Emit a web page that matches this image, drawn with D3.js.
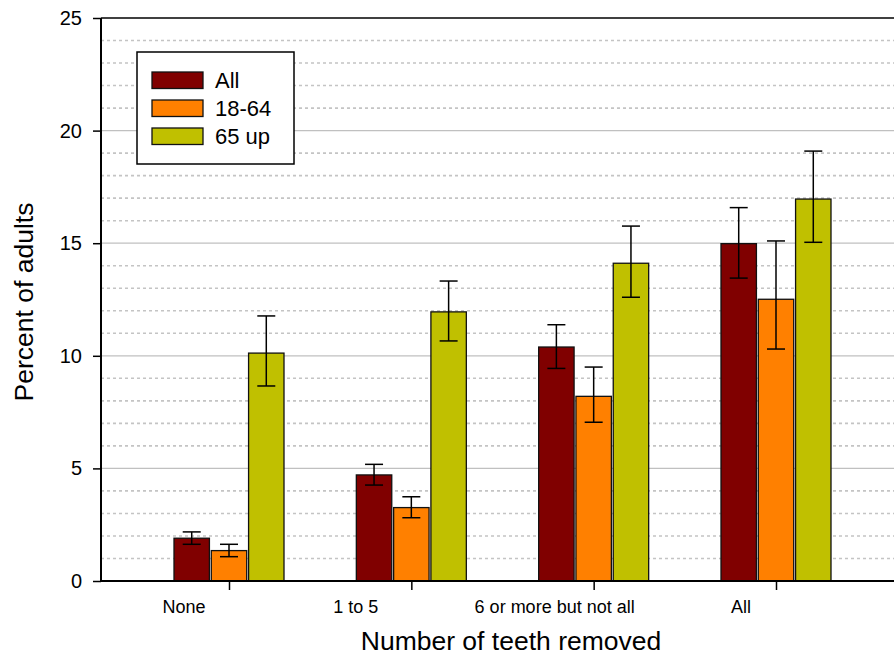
<!DOCTYPE html>
<html>
<head>
<meta charset="utf-8">
<script src="https://cdn.jsdelivr.net/npm/d3@7/dist/d3.min.js"></script>
<style>
  html, body { margin: 0; padding: 0; background: #fff; }
  svg { display: block; font-family: "Liberation Sans", Arial, sans-serif; }
</style>
</head>
<body>
<svg id="chart" width="894" height="655"></svg>
<script>
// ---- Data ----
const categories = ["None", "1 to 5", "6 or more but not all", "All"];
const seriesNames = ["All", "18-64", "65 up"];
const valuesAll   = [1.90, 4.71, 10.39, 14.98];
const lowerAll    = [1.63, 4.26, 9.44, 13.45];
const upperAll    = [2.18, 5.18, 11.38, 16.58];
const values1864  = [1.35, 3.26, 8.20, 12.51];
const lower1864   = [1.08, 2.81, 7.05, 10.30];
const upper1864   = [1.63, 3.74, 9.50, 15.10];
const values65    = [10.12, 11.95, 14.11, 16.96];
const lower65     = [8.66, 10.66, 12.60, 15.04];
const upper65     = [11.77, 13.32, 15.76, 19.09];
const yTicks = [0, 5, 10, 15, 20, 25];
const yMinorTicks = d3.range(1, 25).filter(v => v % 5 !== 0);

// ---- Layout / style ----
const colors = ["#800000", "#FF8000", "#C0C000"];
const W = 894, H = 655;
const plot = { left: 101, top: 18, right: 894, bottom: 581 };
const labelShift = [-45, -55.5, -39, -35];

const svg = d3.select("#chart");

const y = d3.scaleLinear().domain([0, 25]).range([plot.bottom, plot.top]);
const x = d3.scalePoint().domain(categories).range([229, 776]);
const xs = d3.scaleBand().domain(seriesNames).range([-55, 55]).paddingInner(0.05);

const series = [
  { name: "All",   v: valuesAll,  lo: lowerAll,  hi: upperAll },
  { name: "18-64", v: values1864, lo: lower1864, hi: upper1864 },
  { name: "65 up", v: values65,   lo: lower65,   hi: upper65 }
];

// Gridlines
svg.append("g").selectAll("line").data(yMinorTicks).join("line")
  .attr("x1", plot.left).attr("x2", plot.right)
  .attr("y1", d => y(d)).attr("y2", d => y(d))
  .attr("stroke", "#c4c4c4").attr("stroke-width", 1.6)
  .attr("stroke-dasharray", "3,3");
svg.append("g").selectAll("line").data(yTicks.filter(v => v > 0 && v < 25)).join("line")
  .attr("x1", plot.left).attr("x2", plot.right)
  .attr("y1", d => y(d)).attr("y2", d => y(d))
  .attr("stroke", "#c0c0c0").attr("stroke-width", 1.2);

// Top border
svg.append("line")
  .attr("x1", plot.left).attr("x2", plot.right)
  .attr("y1", y(25)).attr("y2", y(25))
  .attr("stroke", "#000").attr("stroke-width", 1.5);

// Bars
series.forEach((s, si) => {
  const g = svg.append("g");
  g.selectAll("rect").data(categories).join("rect")
    .attr("x", (c) => x(c) + xs(s.name))
    .attr("width", xs.bandwidth())
    .attr("y", (c, i) => y(s.v[i]))
    .attr("height", (c, i) => y(0) - y(s.v[i]))
    .attr("fill", colors[si])
    .attr("stroke", "#111").attr("stroke-width", 1.3);
});

// Error bars
series.forEach((s, si) => {
  const g = svg.append("g").attr("stroke", "#000").attr("stroke-width", 1.5);
  categories.forEach((c, i) => {
    const cx = x(c) + xs(s.name) + xs.bandwidth() / 2;
    g.append("line").attr("x1", cx).attr("x2", cx).attr("y1", y(s.lo[i])).attr("y2", y(s.hi[i]));
    g.append("line").attr("x1", cx - 9).attr("x2", cx + 9).attr("y1", y(s.lo[i])).attr("y2", y(s.lo[i]));
    g.append("line").attr("x1", cx - 9).attr("x2", cx + 9).attr("y1", y(s.hi[i])).attr("y2", y(s.hi[i]));
  });
});

// Y axis
const yAxis = svg.append("g").attr("transform", `translate(${plot.left},0)`)
  .call(d3.axisLeft(y).tickValues(yTicks).tickSize(8).tickPadding(11).tickFormat(d3.format("d")));
yAxis.select(".domain").attr("stroke-width", 2).attr("d", `M0,${plot.bottom}V${plot.top}`);
yAxis.selectAll(".tick line").attr("stroke-width", 1.5);
yAxis.selectAll("text").attr("font-size", 20).attr("fill", "#000")
  .attr("font-family", "'Liberation Sans', Arial, sans-serif");

// X axis
const xAxis = svg.append("g").attr("transform", `translate(0,${plot.bottom})`)
  .call(d3.axisBottom(x).tickSize(9).tickFormat(() => ""));
xAxis.select(".domain").attr("stroke-width", 2).attr("d", `M${plot.left},0H${plot.right}`);
xAxis.selectAll(".tick line").attr("stroke-width", 1.5);
svg.append("g").selectAll("text").data(categories).join("text")
  .attr("x", (c, i) => x(c) + labelShift[i])
  .attr("y", 613)
  .attr("text-anchor", "middle")
  .attr("font-size", 18)
  .attr("fill", "#000")
  .text(d => d);

// Axis titles
svg.append("text")
  .attr("x", 511).attr("y", 650)
  .attr("text-anchor", "middle").attr("font-size", 26.5).attr("fill", "#000")
  .text("Number of teeth removed");
svg.append("text")
  .attr("transform", "translate(33,302) rotate(-90)")
  .attr("text-anchor", "middle").attr("font-size", 26.5).attr("fill", "#000")
  .text("Percent of adults");

// Legend
const leg = svg.append("g");
leg.append("rect").attr("x", 137).attr("y", 52).attr("width", 157).attr("height", 112)
  .attr("fill", "#fff").attr("stroke", "#000").attr("stroke-width", 1.5);
seriesNames.forEach((n, i) => {
  leg.append("rect").attr("x", 152).attr("y", 72 + i * 28).attr("width", 51).attr("height", 16.5)
    .attr("fill", colors[i]).attr("stroke", "#111").attr("stroke-width", 1.3);
  leg.append("text").attr("x", 215).attr("y", 88 + i * 28)
    .attr("font-size", 22).attr("fill", "#000").text(n);
});
</script>
</body>
</html>
